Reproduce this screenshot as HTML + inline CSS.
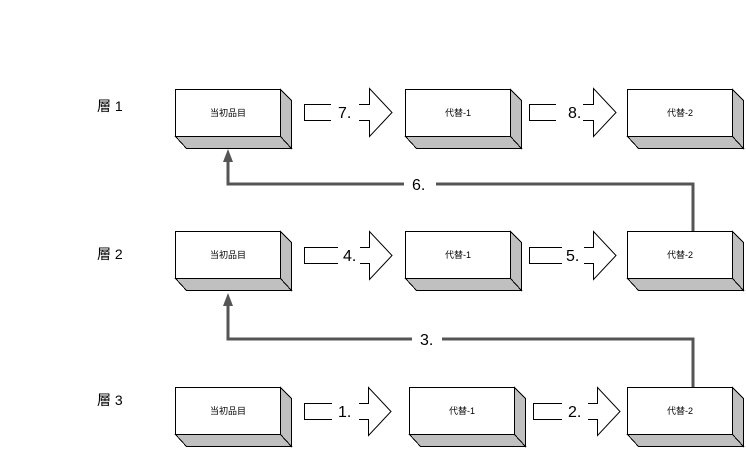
<!DOCTYPE html>
<html><head><meta charset="utf-8"><style>
html,body{margin:0;padding:0;background:#fff;}
svg{display:block;}
text{font-family:"Liberation Sans","Noto Sans CJK JP",sans-serif;fill:#000;}
</style></head><body>
<svg width="746" height="452" viewBox="0 0 746 452" xmlns="http://www.w3.org/2000/svg">
<defs>
<g id="box">
<polygon points="105,0 116,11 116,59 105,47" fill="#c0c0c0" stroke="#000" stroke-width="1"/>
<polygon points="0,47 105,47 116,59 11,59" fill="#c0c0c0" stroke="#000" stroke-width="1"/>
<rect x="0" y="0" width="105" height="47" fill="#fff" stroke="#000" stroke-width="1"/>
</g>
</defs>
<g shape-rendering="crispEdges">
<use href="#box" x="175.5" y="89.5"/>
<use href="#box" x="405.5" y="89.5"/>
<use href="#box" x="627.5" y="89.5"/>
<use href="#box" x="175.5" y="231.5"/>
<use href="#box" x="405.5" y="231.5"/>
<use href="#box" x="627.5" y="231.5"/>
<use href="#box" x="175.5" y="387.5"/>
<use href="#box" x="409.5" y="387.5"/>
<use href="#box" x="627.5" y="387.5"/>
</g>
<g font-size="9" text-anchor="middle">
<text x="228" y="116">当初品目</text>
<text x="458" y="116">代替-1</text>
<text x="680" y="116">代替-2</text>
<text x="228" y="258">当初品目</text>
<text x="458" y="258">代替-1</text>
<text x="680" y="258">代替-2</text>
<text x="228" y="414">当初品目</text>
<text x="462" y="414">代替-1</text>
<text x="680" y="414">代替-2</text>
</g>
<g font-size="14">
<text x="97" y="111">層 1</text>
<text x="97" y="259">層 2</text>
<text x="97" y="405">層 3</text>
</g>
<g fill="none" stroke="#000" stroke-width="1">
<path d="M331,104.5 H304.5 V120.5 H331 M359,104.5 H369.5 V88.5 L392,112.5 L369.5,136.5 V120.5 H359"/>
<path d="M556,104.5 H529.5 V120.5 H556 M583,104.5 H593.5 V88.5 L616,112.5 L593.5,136.5 V120.5 H583"/>
<path d="M338,247.5 H304.5 V263.5 H338 M360,247.5 H369.5 V231.5 L392,255.5 L369.5,279.5 V263.5 H360"/>
<path d="M562,247.5 H529.5 V263.5 H562 M584,247.5 H593.5 V231.5 L616,255.5 L593.5,279.5 V263.5 H584"/>
<path d="M332,403.5 H304.5 V419.5 H332 M359,403.5 H368.5 V387.5 L391,411.5 L368.5,435.5 V419.5 H359"/>
<path d="M562,403.5 H533.5 V419.5 H562 M588,403.5 H597.5 V387.5 L620,411.5 L597.5,435.5 V419.5 H588"/>
</g>
<g font-size="16">
<text x="338" y="118">7.</text>
<text x="568" y="118">8.</text>
<text x="343" y="261">4.</text>
<text x="566" y="261">5.</text>
<text x="338" y="417">1.</text>
<text x="568" y="417">2.</text>
</g>
<g fill="none" stroke="#555" stroke-width="3">
<path d="M693,231 V184 H228 V162"/>
<path d="M693,387 V339 H228 V306"/>
</g>
<g fill="#555">
<polygon points="228,149 223,162 233,162"/>
<polygon points="228,293 223,306 233,306"/>
</g>
<rect x="404" y="176" width="32" height="16" fill="#fff"/>
<rect x="412" y="331" width="30" height="16" fill="#fff"/>
<g font-size="16">
<text x="412" y="190">6.</text>
<text x="420" y="345">3.</text>
</g>
</svg>
</body></html>
